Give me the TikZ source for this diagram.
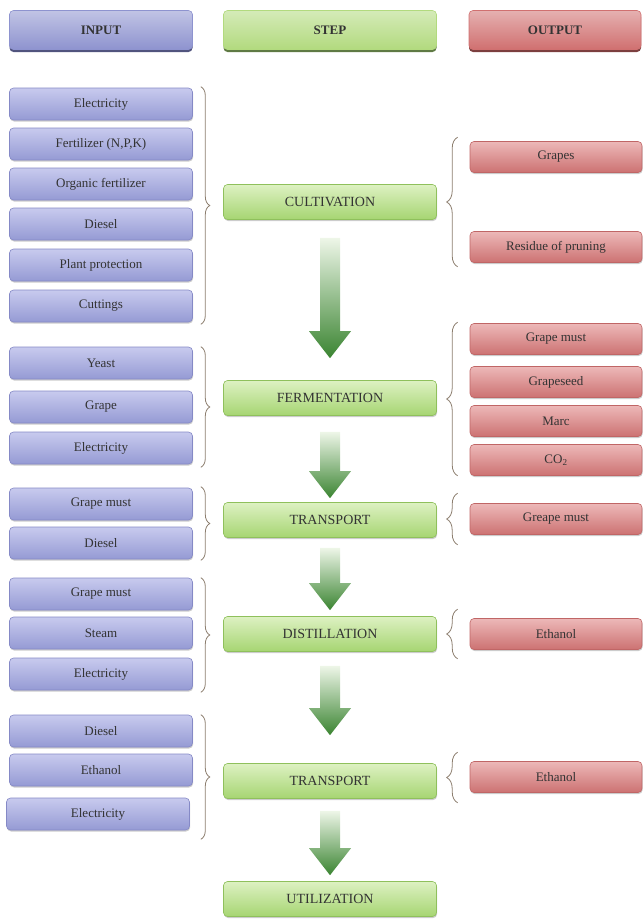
\documentclass[tikz,border=0pt]{standalone}
\usepackage{fontspec}
\setmainfont{Liberation Serif}
\usetikzlibrary{shadows,decorations.pathreplacing,calc}

\definecolor{inTop}{HTML}{C8CAEE}
\definecolor{inBot}{HTML}{959AD4}
\definecolor{inLine}{HTML}{8589C6}
\definecolor{inHead}{HTML}{8E93CF}
\definecolor{inDark}{HTML}{3E4170}
\definecolor{stTop}{HTML}{DDF1C2}
\definecolor{stBot}{HTML}{A6D572}
\definecolor{stLine}{HTML}{8FC05C}
\definecolor{stHead}{HTML}{B2DA7E}
\definecolor{stDark}{HTML}{4E6B30}
\definecolor{ouTop}{HTML}{EDB8B8}
\definecolor{ouBot}{HTML}{CC7272}
\definecolor{ouLine}{HTML}{C06666}
\definecolor{ouHead}{HTML}{D07070}
\definecolor{ouDark}{HTML}{6E2A2A}
\definecolor{arTop}{HTML}{EEF6E8}
\definecolor{arBot}{HTML}{3A8431}
\definecolor{braceCol}{HTML}{8C7E6E}

\tikzset{
  box/.style={rectangle, rounded corners=4pt, line width=0.6pt, text=black!80,
    drop shadow={shadow xshift=0.6pt, shadow yshift=-1.5pt, fill=black, opacity=0.2}},
  inbox/.style={box, draw=inLine, top color=inTop, bottom color=inBot,
    minimum width=183pt, minimum height=32pt, font=\fontsize{13}{15}\selectfont},
  stepbox/.style={box, draw=stLine, top color=stTop, bottom color=stBot,
    minimum width=213pt, minimum height=35pt, font=\fontsize{14}{16}\selectfont},
  outbox/.style={box, draw=ouLine, top color=ouTop, bottom color=ouBot,
    minimum width=172pt, minimum height=31pt, font=\fontsize{13}{15}\selectfont},
  headbox/.style 2 args={rectangle, rounded corners=4pt, draw=#1, line width=0.6pt,
    top color=#1!55!white, bottom color=#1, text=black!80,
    font=\bfseries\fontsize{13}{15}\selectfont, minimum height=39pt,
    drop shadow={shadow xshift=0pt, shadow yshift=-2.5pt, fill=#2, opacity=0.9}},
  inbrace/.style={draw=braceCol, line width=0.8pt, decorate,
    decoration={brace, amplitude=9pt}},
  outbrace/.style={draw=braceCol, line width=0.8pt, decorate,
    decoration={brace, amplitude=11pt}},
  arrowfill/.style={top color=arTop, bottom color=arBot}
}

% fat arrow from #1 (top of shaft) down to #2 (tip)
\newcommand{\flowarrow}[2]{%
  \shade[arrowfill] let \p1=#1, \p2=#2 in
    (\x1-10pt,\y1) -- (\x1+10pt,\y1) -- (\x1+10pt,\y2+27pt) -- (\x1+21pt,\y2+27pt)
    -- (\x1,\y2) -- (\x1-21pt,\y2+27pt) -- (\x1-10pt,\y2+27pt) -- cycle;}

\begin{document}
\begin{tikzpicture}[x=1pt, y=-1pt]
\useasboundingbox (0,0) rectangle (643,919);

% headers
\node[headbox={inHead}{inDark}, minimum width=183pt] (hin) at (101,30) {INPUT};
\node[headbox={stHead}{stDark}, minimum width=213pt] (hstep) at (330,30) {STEP};
\node[headbox={ouHead}{ouDark}, minimum width=172pt] (hout) at (555,30) {OUTPUT};

% steps
\node[stepbox] (cult) at (330,202) {CULTIVATION};
\node[stepbox] (ferm) at (330,398) {FERMENTATION};
\node[stepbox] (trans1) at (330,520) {TRANSPORT};
\node[stepbox] (dist) at (330,634) {DISTILLATION};
\node[stepbox] (trans2) at (330,781) {TRANSPORT};
\node[stepbox] (util) at (330,899) {UTILIZATION};

% inputs
\node[inbox] (c1) at (101,104) {Electricity};
\node[inbox] (c2) at (101,144) {Fertilizer (N,P,K)};
\node[inbox] (c3) at (101,184) {Organic fertilizer};
\node[inbox] (c4) at (101,224) {Diesel};
\node[inbox] (c5) at (101,265) {Plant protection};
\node[inbox] (c6) at (101,306) {Cuttings};

\node[inbox] (f1) at (101,363) {Yeast};
\node[inbox] (f2) at (101,407) {Grape};
\node[inbox] (f3) at (101,448) {Electricity};

\node[inbox] (t1) at (101,504) {Grape must};
\node[inbox] (t2) at (101,543) {Diesel};

\node[inbox] (d1) at (101,594) {Grape must};
\node[inbox] (d2) at (101,633) {Steam};
\node[inbox] (d3) at (101,674) {Electricity};

\node[inbox] (u1) at (101,731) {Diesel};
\node[inbox] (u2) at (101,770) {Ethanol};
\node[inbox] (u3) at (98,814) {Electricity};

% outputs
\node[outbox] (co1) at (556,157) {Grapes};
\node[outbox] (co2) at (556,247) {Residue of pruning};

\node[outbox] (fo1) at (556,339) {Grape must};
\node[outbox] (fo2) at (556,382) {Grapeseed};
\node[outbox] (fo3) at (556,421) {Marc};
\node[outbox] (fo4) at (556,460) {CO\textsubscript{2}};

\node[outbox] (to1) at (556,519) {Greape must};
\node[outbox] (do1) at (556,634) {Ethanol};
\node[outbox] (uo1) at (556,777) {Ethanol};

% input braces
\draw[inbrace] ($(c1.north east)+(8,-1)$) -- ($(c6.south east)+(8,2)$);
\draw[inbrace] ($(f1.north east)+(8,0)$) -- ($(f3.south east)+(8,3)$);
\draw[inbrace] ($(t1.north east)+(8,-1)$) -- ($(t2.south east)+(8,1)$);
\draw[inbrace] ($(d1.north east)+(8,0)$) -- ($(d3.south east)+(8,2)$);
\draw[inbrace] ($(u1.north east)+(8,0)$) -- ($(u3.south east)+(11,9)$);

% output braces
\draw[outbrace] ($(co2.south west)+(-12,4)$) -- ($(co1.north west)+(-12,-4)$);
\draw[outbrace] ($(fo4.south west)+(-12,0)$) -- ($(fo1.north west)+(-12,-1)$);
\draw[outbrace] ($(to1.south west)+(-12,10)$) -- ($(to1.north west)+(-12,-10)$);
\draw[outbrace] ($(do1.south west)+(-12,9)$) -- ($(do1.north west)+(-12,-9)$);
\draw[outbrace] ($(uo1.south west)+(-12,10)$) -- ($(uo1.north west)+(-12,-9)$);

% flow arrows
\flowarrow{($(cult.south)+(0,18)$)}{($(ferm.north)+(0,-22)$)}
\flowarrow{($(ferm.south)+(0,16)$)}{($(trans1.north)+(0,-4)$)}
\flowarrow{($(trans1.south)+(0,10)$)}{($(dist.north)+(0,-6)$)}
\flowarrow{($(dist.south)+(0,14)$)}{($(trans2.north)+(0,-28)$)}
\flowarrow{($(trans2.south)+(0,12)$)}{($(util.north)+(0,-6)$)}

\end{tikzpicture}
\end{document}
